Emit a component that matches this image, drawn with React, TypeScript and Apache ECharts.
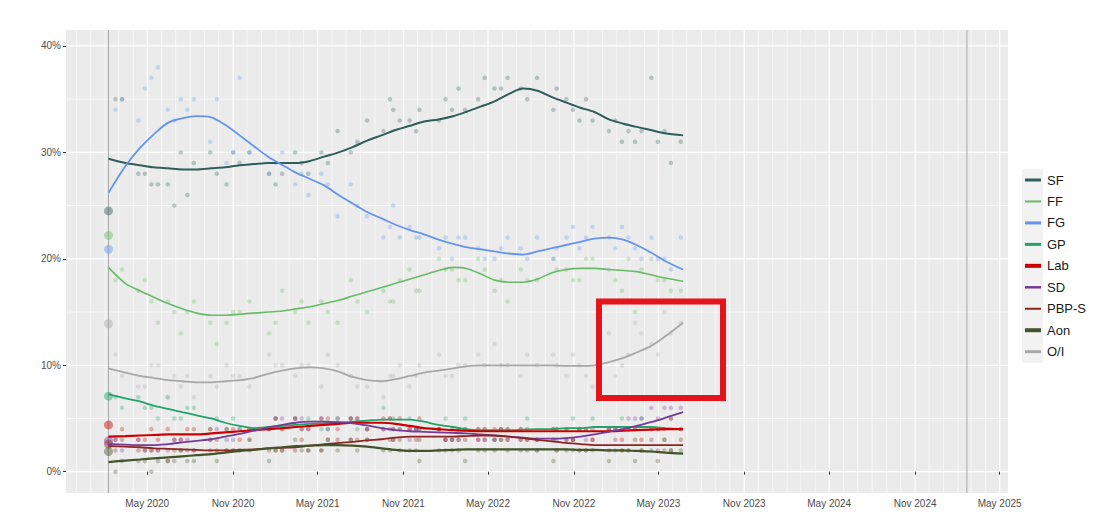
import React, { useEffect, useRef } from 'react';
import * as echarts from 'echarts';

const parties = ['SF', 'FF', 'FG', 'GP', 'Lab', 'SD', 'PBP-S', 'Aon', 'O/I'];
const partyColors = ['#2F5E5A', '#66BB66', '#6495ED', '#22A36A', '#CC0000', '#763A98', '#8E2420', '#44532A', '#A8A8A8'];
const legendWidths = [3, 2, 3, 3, 4, 2.5, 2, 4, 3];
const lineWidths = [2, 1.6, 1.8, 1.8, 2.2, 1.8, 1.8, 2.2, 1.8];

const electionDate = '2020-02-08';
const nextElectionDate = '2025-02-20';
const electionResults = [24.5, 22.2, 20.9, 7.1, 4.4, 2.9, 2.6, 1.9, 13.9];

const pollDates = [
  '2020-02-23', '2020-03-08', '2020-04-12', '2020-04-26', '2020-05-10', '2020-05-24', '2020-06-14', '2020-06-28', '2020-07-12', '2020-07-26',
  '2020-08-09', '2020-09-13', '2020-09-27', '2020-10-18', '2020-11-01', '2020-11-15', '2020-12-06', '2021-01-17', '2021-01-31', '2021-02-14',
  '2021-03-14', '2021-03-28', '2021-04-11', '2021-05-09', '2021-05-23', '2021-06-13', '2021-07-11', '2021-07-25', '2021-08-15', '2021-09-19',
  '2021-10-03', '2021-10-10', '2021-10-24', '2021-11-14', '2021-11-28', '2021-12-05', '2022-01-16', '2022-01-30', '2022-02-13', '2022-02-27',
  '2022-03-13', '2022-04-10', '2022-04-24', '2022-05-15', '2022-05-29', '2022-06-12', '2022-07-10', '2022-07-24', '2022-08-14', '2022-09-18',
  '2022-09-25', '2022-10-16', '2022-10-30', '2022-11-13', '2022-11-27', '2022-12-11', '2023-01-15', '2023-01-29', '2023-02-12', '2023-02-26',
  '2023-03-12', '2023-03-26', '2023-04-16', '2023-04-30', '2023-05-14', '2023-05-28', '2023-06-18',
];
const pollSF = [35, 35, 28, 28, 27, 27, 27, 25, 30, 26, 29, 30, 28, 27, 30, 29, 30, 28, 27, 28, 30, 29, 28, 30, 29, 32, 30, 31, 33, 32, 35, 34, 33, 33, 32, 34, 33, 35, 34, 36, 34, 35, 37, 36, 36, 37, 36, 35, 37, 34, 36, 35, 34, 33, 35, 33, 32, 33, 31, 32, 31, 32, 37, 31, 32, 29, 31];
const pollFF = [18, 19, 17, 18, 16, 14, 16, 15, 13, 15, 16, 14, 12, 14, 15, 15, 16, 13, 14, 17, 15, 16, 14, 16, 15, 14, 18, 16, 15, 17, 16, 16, 18, 19, 17, 17, 20, 19, 19, 18, 18, 20, 19, 17, 18, 16, 19, 18, 18, 20, 19, 19, 18, 18, 20, 20, 19, 18, 17, 20, 15, 19, 20, 18, 18, 17, 17];
const pollFG = [34, 35, 33, 36, 37, 38, 34, 33, 35, 34, 35, 31, 35, 29, 30, 37, 30, 28, 29, 30, 27, 28, 26, 28, 27, 24, 27, 25, 24, 22, 23, 25, 22, 23, 22, 22, 21, 22, 20, 22, 22, 21, 20, 20, 21, 22, 21, 20, 22, 20, 21, 22, 23, 21, 22, 23, 22, 21, 23, 22, 21, 20, 22, 20, 20, 19, 22];
const pollGP = [7, 6, 7, 6, 6, 5, 7, 5, 5, 6, 6, 4, 5, 4, 5, 4, 3, 4, 5, 4, 5, 4, 5, 4, 4, 5, 5, 4, 4, 6, 5, 5, 4, 5, 4, 4, 4, 5, 3, 4, 5, 4, 4, 3, 4, 4, 4, 5, 3, 4, 4, 4, 5, 4, 4, 5, 4, 4, 5, 4, 4, 5, 4, 4, 3, 5, 4];
const pollLab = [3, 4, 3, 3, 4, 3, 4, 3, 3, 4, 4, 4, 3, 4, 4, 3, 4, 4, 5, 4, 5, 4, 4, 5, 5, 4, 5, 5, 4, 5, 5, 4, 5, 4, 4, 5, 4, 3, 4, 4, 4, 3, 4, 4, 4, 3, 4, 4, 3, 4, 4, 4, 3, 4, 4, 3, 4, 4, 3, 4, 4, 3, 4, 4, 4, 5, 4];
const pollSD = [3, 2, 3, 2, 2, 2, 2, 3, 3, 3, 2, 3, 4, 3, 3, 4, 4, 4, 5, 5, 5, 5, 4, 5, 4, 5, 5, 5, 4, 4, 4, 4, 4, 3, 4, 4, 4, 3, 3, 3, 4, 3, 3, 3, 4, 3, 3, 3, 2, 3, 3, 3, 3, 4, 3, 4, 4, 4, 4, 5, 5, 5, 6, 5, 6, 6, 6];
const pollPBP = [2, 3, 2, 2, 2, 2, 1, 2, 2, 2, 2, 3, 2, 2, 2, 2, 3, 2, 2, 2, 2, 3, 2, 2, 3, 3, 3, 3, 3, 4, 3, 3, 3, 4, 3, 3, 4, 3, 3, 3, 3, 4, 3, 3, 3, 4, 3, 3, 3, 3, 2, 3, 3, 2, 2, 3, 2, 3, 2, 2, 3, 2, 3, 2, 3, 2, 3];
const pollAon = [0, 1, 1, 1, 0, 1, 1, 1, 2, 1, 1, 2, 1, 2, 2, 2, 2, 1, 2, 2, 3, 2, 2, 2, 3, 2, 3, 2, 3, 2, 2, 3, 2, 2, 2, 1, 2, 2, 2, 2, 1, 2, 2, 2, 3, 2, 2, 2, 2, 1, 2, 2, 2, 2, 2, 2, 1, 2, 2, 2, 1, 2, 2, 1, 2, 2, 2];
const pollOI = [11, 9, 8, 8, 10, 10, 7, 9, 8, 9, 7, 9, 8, 10, 9, 9, 8, 11, 10, 10, 9, 10, 10, 8, 11, 10, 9, 8, 8, 7, 9, 9, 10, 8, 9, 10, 11, 9, 9, 10, 10, 11, 10, 12, 10, 10, 9, 11, 10, 11, 10, 9, 11, 10, 9, 8, 13, 9, 10, 11, 14, 13, 12, 11, 15, 13, 14];
const pollValues = [pollSF, pollFF, pollFG, pollGP, pollLab, pollSD, pollPBP, pollAon, pollOI];

const trendDates = [
  '2020-02-08', '2020-03-15', '2020-04-15', '2020-05-15', '2020-06-15', '2020-07-15', '2020-08-15', '2020-09-15', '2020-10-15', '2020-11-15', '2020-12-15',
  '2021-01-15', '2021-02-15', '2021-03-15', '2021-04-15', '2021-05-15', '2021-06-15', '2021-07-15', '2021-08-15', '2021-09-15', '2021-10-15', '2021-11-15', '2021-12-15',
  '2022-01-15', '2022-02-15', '2022-03-15', '2022-04-15', '2022-05-15', '2022-06-15', '2022-07-15', '2022-08-15', '2022-09-15', '2022-10-15', '2022-11-15', '2022-12-15',
  '2023-01-15', '2023-02-15', '2023-03-15', '2023-04-15', '2023-05-15', '2023-06-23',
];
const trendSF = [29.4, 29.0, 28.8, 28.6, 28.5, 28.4, 28.4, 28.5, 28.6, 28.8, 28.9, 29.0, 29.0, 29.0, 29.2, 29.6, 30.0, 30.5, 31.1, 31.6, 32.1, 32.5, 32.9, 33.1, 33.4, 33.8, 34.3, 34.8, 35.5, 36.0, 35.8, 35.2, 34.7, 34.2, 33.8, 33.1, 32.7, 32.4, 32.1, 31.8, 31.6];
const trendFF = [19.2, 17.7, 17.0, 16.4, 15.8, 15.3, 14.9, 14.7, 14.7, 14.8, 14.9, 15.0, 15.1, 15.3, 15.5, 15.8, 16.1, 16.5, 16.9, 17.3, 17.7, 18.1, 18.5, 18.9, 19.2, 19.1, 18.6, 18.0, 17.8, 17.8, 18.1, 18.7, 19.0, 19.1, 19.1, 19.0, 18.9, 18.8, 18.5, 18.2, 17.9];
const trendFG = [26.2, 28.7, 30.4, 31.7, 32.8, 33.2, 33.4, 33.3, 32.6, 31.6, 30.6, 29.6, 28.8, 28.1, 27.5, 26.9, 26.0, 25.2, 24.4, 23.8, 23.2, 22.7, 22.3, 21.8, 21.4, 21.1, 20.9, 20.7, 20.5, 20.4, 20.7, 21.0, 21.3, 21.6, 21.9, 22.0, 21.8, 21.3, 20.6, 19.8, 19.0];
const trendGP = [7.3, 6.9, 6.6, 6.2, 5.9, 5.6, 5.3, 5.0, 4.6, 4.3, 4.1, 4.2, 4.3, 4.4, 4.5, 4.55, 4.6, 4.7, 4.8, 4.9, 4.9, 4.9, 4.7, 4.4, 4.2, 4.0, 3.9, 3.9, 3.9, 3.95, 4.0, 4.0, 4.1, 4.1, 4.2, 4.2, 4.2, 4.2, 4.2, 4.1, 4.0];
const trendLab = [3.3, 3.35, 3.4, 3.45, 3.5, 3.5, 3.5, 3.6, 3.7, 3.8, 3.9, 4.0, 4.1, 4.2, 4.3, 4.4, 4.5, 4.6, 4.6, 4.6, 4.5, 4.3, 4.1, 4.0, 3.9, 3.85, 3.8, 3.8, 3.8, 3.8, 3.8, 3.8, 3.8, 3.8, 3.8, 3.8, 3.85, 3.9, 3.95, 4.0, 4.0];
const trendSD = [2.6, 2.55, 2.5, 2.5, 2.6, 2.75, 2.9, 3.05, 3.3, 3.55, 3.85, 4.15, 4.4, 4.6, 4.7, 4.7, 4.65, 4.55, 4.35, 4.1, 3.9, 3.8, 3.75, 3.7, 3.65, 3.6, 3.5, 3.4, 3.3, 3.2, 3.1, 3.1, 3.15, 3.3, 3.5, 3.75, 4.0, 4.3, 4.65, 5.05, 5.6];
const trendPBP = [2.4, 2.35, 2.3, 2.2, 2.15, 2.1, 2.05, 2.0, 2.0, 2.05, 2.1, 2.2, 2.25, 2.3, 2.45, 2.6, 2.7, 2.8, 2.95, 3.05, 3.2, 3.3, 3.3, 3.3, 3.3, 3.35, 3.4, 3.4, 3.3, 3.15, 3.0, 2.85, 2.7, 2.6, 2.5, 2.5, 2.5, 2.5, 2.5, 2.5, 2.5];
const trendAon = [0.9, 1.05, 1.15, 1.25, 1.35, 1.45, 1.55, 1.65, 1.8, 1.95, 2.05, 2.2, 2.3, 2.4, 2.45, 2.5, 2.5, 2.45, 2.35, 2.2, 2.05, 1.95, 1.95, 2.0, 2.05, 2.1, 2.1, 2.1, 2.1, 2.1, 2.1, 2.1, 2.1, 2.05, 2.05, 2.0, 2.0, 1.95, 1.9, 1.8, 1.7];
const trendOI = [9.7, 9.3, 9.0, 8.8, 8.6, 8.5, 8.4, 8.4, 8.5, 8.6, 8.8, 9.2, 9.5, 9.7, 9.8, 9.7, 9.4, 8.9, 8.6, 8.5, 8.7, 9.0, 9.3, 9.5, 9.7, 9.9, 10.0, 10.0, 10.0, 10.0, 10.0, 10.0, 9.95, 9.95, 10.0, 10.3, 10.7, 11.2, 11.8, 12.7, 14.0];
const trendValues = [trendSF, trendFF, trendFG, trendGP, trendLab, trendSD, trendPBP, trendAon, trendOI];

const xTickLabels = ['2020-05-01', '2020-11-01', '2021-05-01', '2021-11-01', '2022-05-01', '2022-11-01', '2023-05-01', '2023-11-01', '2024-05-01', '2024-11-01', '2025-05-01'];
const yTickValues = [0, 10, 20, 30, 40];
const yMinorValues = [5, 15, 25, 35];
const X_MIN = '2019-11-09';
const X_MAX = '2025-05-19';
const Y_MIN = -2;
const Y_MAX = 41.5;
const MONTHS = ['Jan', 'Feb', 'Mar', 'Apr', 'May', 'Jun', 'Jul', 'Aug', 'Sep', 'Oct', 'Nov', 'Dec'];

const ts = (s: string) => {
  const [y, m, d] = s.split('-').map(Number);
  return new Date(y, m - 1, d).getTime();
};

function monthGrid() {
  const out: any[] = [];
  for (let y = 2019; y <= 2025; y++) {
    for (let m = 0; m < 12; m++) {
      const d = new Date(y, m, 1).getTime();
      if (d < ts(X_MIN) || d > ts(X_MAX)) continue;
      out.push([d, 0, m === 4 || m === 10 ? 1 : 0]);
    }
  }
  out.push([ts(electionDate), 0, 2]);
  out.push([ts(nextElectionDate), 0, 2]);
  return out;
}

export default function App() {
  const ref = useRef<HTMLDivElement>(null);
  useEffect(() => {
    if (!ref.current) return;
    const chart = echarts.init(ref.current, undefined, { renderer: 'svg' });
    const font = "'Liberation Sans', Arial, sans-serif";
    const series: any[] = [];
    series.push({
      type: 'custom',
      silent: true,
      z: 0,
      encode: { x: 0, y: 1 },
      data: [...yMinorValues.map((v) => [ts('2021-01-01'), v, 0]), ...yTickValues.map((v) => [ts('2021-01-01'), v, 1])],
      renderItem: (params: any, api: any) => {
        const cs = params.coordSys;
        const p = api.coord([api.value(0), api.value(1)]);
        const major = api.value(2) === 1;
        return {
          type: 'line',
          shape: { x1: cs.x, y1: p[1], x2: cs.x + cs.width, y2: p[1] },
          style: { stroke: '#FFFFFF', lineWidth: major ? 1.2 : 0.6 },
        };
      },
    });
    series.push({
      type: 'custom',
      silent: true,
      z: 0,
      encode: { x: 0, y: 1 },
      data: monthGrid(),
      renderItem: (params: any, api: any) => {
        const cs = params.coordSys;
        const p = api.coord([api.value(0), 0]);
        const kind = api.value(2);
        return {
          type: 'line',
          shape: { x1: p[0], y1: cs.y, x2: p[0], y2: cs.y + cs.height },
          style: {
            stroke: kind === 2 ? '#A9A9A9' : '#FFFFFF',
            lineWidth: kind === 2 ? 1 : kind === 1 ? 1.2 : 0.6,
          },
        };
      },
    });
    parties.forEach((p, i) => {
      series.push({
        name: p + ' polls',
        type: 'scatter',
        symbol: 'circle',
        symbolSize: 4.5,
        itemStyle: { color: partyColors[i], opacity: 0.3 },
        data: pollDates.map((d, j) => [ts(d), pollValues[i][j]]),
        silent: true,
        z: 2,
      });
    });
    parties.forEach((p, i) => {
      series.push({
        name: p + ' 2020',
        type: 'scatter',
        symbol: 'circle',
        symbolSize: 9,
        itemStyle: { color: partyColors[i], opacity: 0.45 },
        data: [[ts(electionDate), electionResults[i]]],
        silent: true,
        z: 3,
      });
    });
    parties.forEach((p, i) => {
      series.push({
        name: p,
        type: 'line',
        smooth: 0.3,
        showSymbol: false,
        lineStyle: { color: partyColors[i], width: lineWidths[i] },
        itemStyle: { color: partyColors[i] },
        data: trendDates.map((d, j) => [ts(d), trendValues[i][j]]),
        silent: true,
        z: 4,
      });
    });

    const legendTop = 180;
    const legendStep = 21.46;
    const graphic: any[] = [
      { type: 'rect', shape: { x: 1022, y: 169, width: 21, height: 194 }, style: { fill: '#F2F2F2' } },
    ];
    parties.forEach((p, i) => {
      const y = legendTop + i * legendStep;
      graphic.push({
        type: 'line',
        shape: { x1: 1025, y1: y, x2: 1041, y2: y },
        style: { stroke: partyColors[i], lineWidth: legendWidths[i] },
      });
      graphic.push({
        type: 'text',
        x: 1047,
        y: y,
        style: { text: p, fill: '#1A1A1A', fontSize: 13, fontFamily: font, verticalAlign: 'middle' },
      });
    });
    graphic.push({
      type: 'rect',
      shape: { x: 599, y: 301.5, width: 124, height: 96.5 },
      style: { fill: 'none', stroke: '#E3141B', lineWidth: 6 },
      z: 100,
    });

    chart.setOption({
      animation: false,
      backgroundColor: '#FFFFFF',
      grid: { left: 66, right: 91, top: 30, bottom: 30, show: true, backgroundColor: '#EBEBEB', borderWidth: 0 },
      xAxis: {
        type: 'value',
        min: ts(X_MIN),
        max: ts(X_MAX),
        axisLine: { show: false },
        splitLine: { show: false },
        axisTick: { show: true, length: 3, lineStyle: { color: '#333333' }, customValues: xTickLabels.map(ts) },
        axisLabel: {
          customValues: xTickLabels.map(ts),
          margin: 5,
          color: '#4D4D4D',
          fontSize: 10,
          fontFamily: font,
          formatter: (v: number) => {
            const d = new Date(v);
            return MONTHS[d.getMonth()] + ' ' + d.getFullYear();
          },
        },
      },
      yAxis: {
        type: 'value',
        min: Y_MIN,
        max: Y_MAX,
        axisLine: { show: false },
        splitLine: { show: false },
        axisTick: { show: true, length: 3, lineStyle: { color: '#333333' }, customValues: yTickValues },
        axisLabel: {
          customValues: yTickValues,
          margin: 5,
          color: '#4D4D4D',
          fontSize: 10,
          fontFamily: font,
          formatter: (v: number) => v + '%',
        },
      },
      series,
      graphic,
    });
    return () => chart.dispose();
  }, []);
  return <div ref={ref} style={{ position: 'absolute', left: 0, top: 0, width: 1099, height: 523 }} />;
}
